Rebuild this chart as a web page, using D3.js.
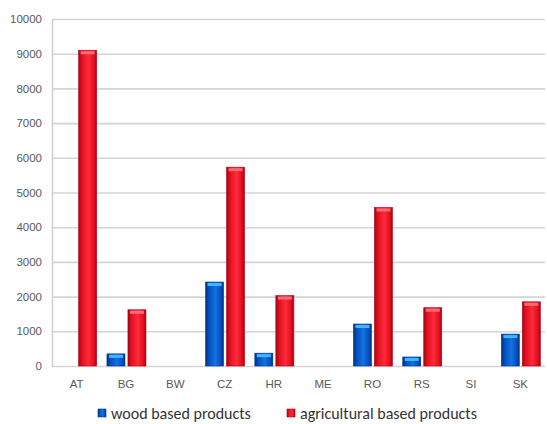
<!DOCTYPE html>
<html>
<head>
<meta charset="utf-8">
<script src="https://cdn.jsdelivr.net/npm/d3@7"></script>
<style>
  html, body { margin: 0; padding: 0; background: #fff; }
  svg { display: block; font-family: Calibri, Carlito, "Open Sans", "Liberation Sans", sans-serif; }
</style>
</head>
<body>
<svg id="chart" width="547" height="424"></svg>
<script>
// Bio-based products per country
const countries = ["AT", "BG", "BW", "CZ", "HR", "ME", "RO", "RS", "SI", "SK"];
const woodValues = [0, 350, 0, 2420, 370, 0, 1210, 260, 0, 920];
const agriValues = [9100, 1620, 0, 5730, 2030, 0, 4570, 1680, 0, 1850];
const seriesNames = ["wood based products", "agricultural based products"];
const yTicks = [0, 1000, 2000, 3000, 4000, 5000, 6000, 7000, 8000, 9000, 10000];

const svg = d3.select("#chart");
const plot = { left: 52, right: 545, top: 19, bottom: 366 };

const x = d3.scaleBand().domain(countries).range([plot.left, plot.right]);
const y = d3.scaleLinear().domain([0, 10000]).range([plot.bottom, plot.top]);

const defs = svg.append("defs");
function barGradient(id, edge, mid, light) {
  const g = defs.append("linearGradient").attr("id", id)
    .attr("x1", "0").attr("x2", "1").attr("y1", "0").attr("y2", "0");
  g.append("stop").attr("offset", "0%").attr("stop-color", edge);
  g.append("stop").attr("offset", "18%").attr("stop-color", mid);
  g.append("stop").attr("offset", "55%").attr("stop-color", light);
  g.append("stop").attr("offset", "85%").attr("stop-color", mid);
  g.append("stop").attr("offset", "100%").attr("stop-color", edge);
}
barGradient("gRed", "#a80010", "#e0101f", "#ff2a3a");
barGradient("gBlue", "#00307a", "#0050c0", "#1870e0");

// gridlines
svg.append("g").selectAll("line").data(yTicks).join("line")
  .attr("x1", plot.left).attr("x2", plot.right)
  .attr("y1", d => y(d) + 0.5).attr("y2", d => y(d) + 0.5)
  .attr("stroke", "#d4d4d4").attr("stroke-width", 1.6);

// value axis line
svg.append("line")
  .attr("x1", plot.left + 0.5).attr("x2", plot.left + 0.5)
  .attr("y1", plot.top).attr("y2", plot.bottom + 1)
  .attr("stroke", "#cfcfcf").attr("stroke-width", 1.5);

// y axis labels
const yAxis = d3.axisLeft(y).tickValues(yTicks).tickSize(0).tickPadding(10).tickFormat(d3.format("d"));
const ya = svg.append("g").attr("transform", `translate(${plot.left},0)`).call(yAxis);
ya.select(".domain").remove();
ya.selectAll("text").attr("fill", "#595959").attr("font-size", 11.5);

// category labels
const xAxis = d3.axisBottom(x).tickSize(0).tickPadding(0);
const xa = svg.append("g").attr("transform", `translate(0,${plot.bottom + 14})`).call(xAxis);
xa.select(".domain").remove();
xa.selectAll("text").attr("fill", "#595959").attr("font-size", 11.5);

const barW = 18;
function drawBars(values, offset, grad, cap, edge) {
  const g = svg.append("g");
  const data = countries.map((c, i) => ({ c, v: values[i] })).filter(d => d.v > 0);
  const bx = d => x(d.c) + x.bandwidth() / 2 + offset;
  g.selectAll("rect.bar").data(data).join("rect").attr("class", "bar")
    .attr("x", bx).attr("width", barW)
    .attr("y", d => y(d.v)).attr("height", d => y(0) - y(d.v))
    .attr("fill", `url(#${grad})`)
    .attr("stroke", edge).attr("stroke-width", 0.6);
  g.selectAll("rect.cap").data(data).join("rect").attr("class", "cap")
    .attr("x", d => bx(d) + 2).attr("width", barW - 4)
    .attr("y", d => y(d.v) + 1).attr("height", 3)
    .attr("fill", cap);
}
drawBars(woodValues, -19, "gBlue", "#3fb6ff", "#003a90");
drawBars(agriValues, 2, "gRed", "#ff6a74", "#b00015");

// legend
const legend = svg.append("g").attr("font-size", 16);
const items = [
  { name: seriesNames[0], x: 98, fill: "url(#gBlue)", stroke: "#003a90" },
  { name: seriesNames[1], x: 287, fill: "url(#gRed)", stroke: "#b00015" }
];
items.forEach(it => {
  legend.append("rect").attr("x", it.x).attr("y", 409).attr("width", 8).attr("height", 8)
    .attr("fill", it.fill).attr("stroke", it.stroke).attr("stroke-width", 0.6);
  legend.append("text").attr("x", it.x + 13).attr("y", 419).text(it.name).attr("fill", "#333");
});
</script>
</body>
</html>
